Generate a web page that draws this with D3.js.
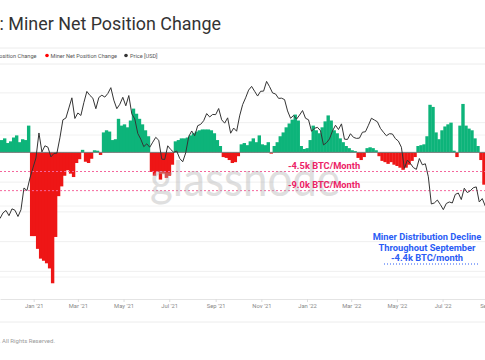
<!DOCTYPE html>
<html><head><meta charset="utf-8">
<script src="https://cdn.jsdelivr.net/npm/d3@7"></script>
<style>html,body{margin:0;padding:0;background:#fff;overflow:hidden}svg{display:block}</style>
</head><body><svg id="chart" width="485" height="360"></svg>
<script>
// ---------- data ----------
const startDate = "2020-11-17";
const stepDays = 4;
// BTC price (USD), one value every 4 days from 2020-11-17
const price = [
17700,18700,19150,18200,19450,19190,18050,19270,23850,23250,
26270,29000,31970,40800,33900,36000,35500,32300,33400,33500,
38900,46400,47200,52100,57500,47000,49600,48400,54900,61200,
58900,57300,51700,57700,59000,57900,60000,63500,56200,51700,
54000,57800,53200,58800,49150,46800,40600,38400,35700,36700,
35500,37300,39100,38000,31600,31500,36000,34700,33800,34200,
31800,30800,33600,39400,41600,39700,43800,44400,46000,49300,
47700,48900,48800,51800,46400,44900,47300,40700,42800,41500,
48200,53800,57500,62000,64300,61300,58500,61300,61400,67500,
64100,60300,59700,57200,57300,56500,50600,47100,48400,46700,
48600,50800,47100,46400,41500,42700,43100,41700,36300,37100,
38500,41600,44000,42200,44600,38400,38300,40500,39100,38700,
38800,41100,41300,44000,47100,46300,45500,42700,41100,39700,
40500,40400,38600,37700,35500,28900,31300,30300,29100,28600,
31800,29900,30200,26600,20400,20600,21200,20300,19300,20500,
20800,20600,22400,22700,21300,23800,22800,23200,23900,24100,
20800,21500,20000,20000];
// Miner net position change (BTC, 30d), same dates
const netPosition = [
2900,3300,2200,2600,3500,4000,2400,3100,2900,6300,
-19700,-19700,-22700,-25000,-25500,-26100,-27300,-30800,-19900,-10300,
-8000,-5500,-4200,-5000,-5800,-2500,-1600,600,-2200,-2500,
-1500,500,400,-600,4700,5200,4900,2900,3100,7900,
6300,6600,5900,7500,10300,9100,7900,6600,5200,3800,
-4600,-5500,-4600,-6400,-5000,-6000,-5500,-2900,2600,2900,
3300,3300,3500,4000,4500,4900,5200,5400,5400,5400,
5200,4500,2900,1500,-1100,-1300,-1800,-2500,-2300,-900,
1900,2200,1700,2600,3300,2400,4000,1900,1700,2400,
-300,1500,2400,3800,4700,5900,6800,7700,8900,7500,
1500,800,1000,2900,6300,5200,4500,5900,7300,8700,
7500,5200,4500,3300,2400,1500,1000,500,300,-1300,
-1800,-1100,1000,1200,1000,500,-900,-2000,-2300,-2700,
-2300,-2900,-3200,-3600,-4100,-3600,-2900,-2000,-1100,1500,
1700,1900,3800,11200,10700,4700,3100,5200,6100,6600,
7000,400,-1100,6300,11400,6300,5600,5200,3300,1500,
-1800,-7600,-8300,-8000];
const xTickDates = ["2021-01-01","2021-03-01","2021-05-01","2021-07-01","2021-09-01","2021-11-01",
                    "2022-01-01","2022-03-01","2022-05-01","2022-07-01","2022-09-01"];
const netGrid = [14000,7000,-7000,-14000,-21000,-28000];
const priceGrid = [10000,20000,40000];
const thresholds = [-4500,-9000];
const thresholdLabels = ["-4.5k BTC/Month","-9.0k BTC/Month"];
const annotationLines = ["Miner Distribution Decline","Throughout September","-4.4k BTC/month"];
const legendItems = ["Miner Net Position Change","Miner Net Position Change","Price [USD]"];
const titleText = "Bitcoin: Miner Net Position Change";
const footerText = "© 2022 Glassnode. All Rights Reserved.";

// ---------- chart ----------
const W = 485, H = 360;
const plotTop = 64, plotBottom = 299;
const GREEN = "#0db47a", RED = "#ee1616", PRICE = "#343434";
const FONT = "Roboto, 'Noto Sans', sans-serif";
const svg = d3.select("#chart");
const parse = d3.utcParse("%Y-%m-%d");
const t0 = parse(startDate);
const dates = price.map((_, i) => d3.utcDay.offset(t0, i * stepDays));

const x = d3.scaleUtc().domain([parse("2020-11-17"), parse("2022-09-01")]).range([0, 489]);
const yB = d3.scaleLinear().domain([-34500, 20800]).range([plotBottom, plotTop]);
const yP = d3.scaleLog().domain([10000, 80000]).range([277, plotTop]);

svg.append("rect").attr("width", W).attr("height", H).attr("fill", "#fff");

// title
svg.append("text").attr("x", 221).attr("y", 30).attr("text-anchor", "end")
  .attr("font-family", FONT).attr("font-size", 17.9).attr("fill", "#333").text(titleText);

// legend frame lines
[48, 64].forEach(yy => svg.append("line").attr("x1", 0).attr("x2", W).attr("y1", yy).attr("y2", yy)
  .attr("stroke", "#ececec").attr("stroke-width", 1));

// legend
const lg = svg.append("g").attr("font-family", FONT).attr("font-size", 5.6).attr("fill", "#555");
const t1 = lg.append("text").attr("x", 36.5).attr("y", 57.5).attr("text-anchor", "end").text(legendItems[0]);
const w1 = t1.node().getComputedTextLength();
lg.append("circle").attr("cx", 36.5 - w1 - 3.5).attr("cy", 55.5).attr("r", 1.8).attr("fill", GREEN);
lg.append("circle").attr("cx", 47).attr("cy", 55.5).attr("r", 1.8).attr("fill", "#f00");
lg.append("text").attr("x", 50.5).attr("y", 57.5).text(legendItems[1]);
lg.append("circle").attr("cx", 126).attr("cy", 55.5).attr("r", 1.8).attr("fill", PRICE);
lg.append("text").attr("x", 130).attr("y", 57.5).text(legendItems[2]);

// clip
svg.append("clipPath").attr("id", "plot").append("rect")
  .attr("x", 0).attr("y", plotTop).attr("width", W).attr("height", plotBottom - plotTop);
const plot = svg.append("g").attr("clip-path", "url(#plot)");

// grid
netGrid.forEach(v => plot.append("line").attr("x1", 0).attr("x2", W)
  .attr("y1", yB(v)).attr("y2", yB(v)).attr("stroke", "#efefef"));
priceGrid.forEach(v => plot.append("line").attr("x1", 0).attr("x2", W)
  .attr("y1", yP(v)).attr("y2", yP(v)).attr("stroke", "#f2f2f2"));

// bars
plot.append("g").selectAll("rect").data(netPosition).join("rect")
  .attr("x", (d, i) => x(dates[i]))
  .attr("width", (d, i) => x(d3.utcDay.offset(dates[i], stepDays)) - x(dates[i]) + 0.4)
  .attr("y", d => yB(Math.max(0, d)))
  .attr("height", d => Math.abs(yB(d) - yB(0)))
  .attr("fill", d => d >= 0 ? GREEN : RED);

// zero line
plot.append("line").attr("x1", 0).attr("x2", W).attr("y1", yB(0)).attr("y2", yB(0))
  .attr("stroke", "#7a7a7a").attr("stroke-width", 1);

// threshold dashed lines
thresholds.forEach(v => plot.append("line").attr("x1", 0).attr("x2", W)
  .attr("y1", yB(v)).attr("y2", yB(v)).attr("stroke", "#f5669c")
  .attr("stroke-width", 1).attr("stroke-dasharray", "2,2"));

// price line
plot.append("path").datum(price)
  .attr("d", d3.line().x((d, i) => x(dates[i])).y(d => yP(d)))
  .attr("fill", "none").attr("stroke", PRICE).attr("stroke-width", 1);

// watermark
svg.append("text").attr("x", 150).attr("y", 196).attr("font-family", "Lato, sans-serif")
  .attr("font-size", 48).attr("fill", "#b0b0b0").attr("opacity", 0.4)
  .attr("textLength", 190).attr("lengthAdjust", "spacingAndGlyphs").text("glassnode");

// threshold labels
thresholds.forEach((v, i) => svg.append("text").attr("x", 324).attr("y", yB(v) - 2.5)
  .attr("text-anchor", "middle").attr("font-family", FONT).attr("font-weight", "bold")
  .attr("font-size", 9.3).attr("fill", "#ec2266").text(thresholdLabels[i]));

// blue annotation
const BLUE = "#2a5cf5";
annotationLines.forEach((s, i) => svg.append("text").attr("x", 427).attr("y", 240 + i * 10.5)
  .attr("text-anchor", "middle").attr("font-family", FONT).attr("font-weight", "bold")
  .attr("font-size", 9.3).attr("fill", BLUE).text(s));
svg.append("line").attr("x1", 384).attr("x2", 480).attr("y1", 264).attr("y2", 264)
  .attr("stroke", BLUE).attr("stroke-width", 1).attr("stroke-dasharray", "1,2");

// x axis
const xa = svg.append("g").attr("transform", `translate(0,${plotBottom})`)
  .call(d3.axisBottom(x).tickValues(xTickDates.map(parse))
    .tickFormat(d3.utcFormat("%b '%y")).tickSize(3).tickSizeOuter(0).tickPadding(2));
xa.select(".domain").attr("stroke", "#e4e4e4");
xa.selectAll(".tick line").attr("stroke", "#dcdcdc");
xa.selectAll(".tick text").attr("fill", "#888").attr("font-size", 5.8).attr("font-family", FONT);

svg.append("line").attr("x1", 0).attr("x2", W).attr("y1", 322).attr("y2", 322)
  .attr("stroke", "#ececec");

// footer
svg.append("text").attr("x", 55).attr("y", 343).attr("text-anchor", "end")
  .attr("font-family", FONT).attr("font-size", 6).attr("fill", "#9a9a9a").text(footerText);
</script></body></html>
